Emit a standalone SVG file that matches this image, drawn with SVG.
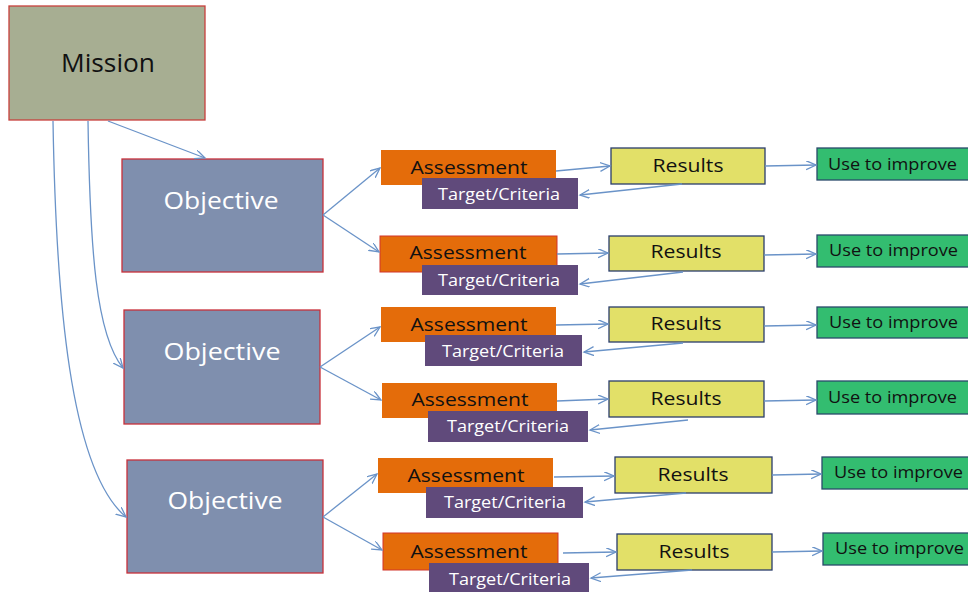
<svg xmlns="http://www.w3.org/2000/svg" width="968" height="592" viewBox="0 0 968 592">
<style>
text{font-family:"Open Sans","Noto Sans","Liberation Sans",sans-serif;}
.mission{fill:#a7ae92;stroke:#c8403c;stroke-width:1.3}
.obj{fill:#7f8fae;stroke:#c8303a;stroke-width:1.3}
.ass{fill:#e46c0a;stroke:none}
.ass2{fill:#e46c0a;stroke:#d2352b;stroke-width:1}
.tgt{fill:#604a7b}
.res{fill:#e2e068;stroke:#2a3d6b;stroke-width:1.3}
.use{fill:#33bd70;stroke:#2a4a6b;stroke-width:1.3}
.tw{fill:#ffffff}
.tb{fill:#111111}
.c{text-anchor:middle}
.conn{fill:none;stroke:#6a93c8;stroke-width:1.3;marker-end:url(#ah)}
</style>
<defs>
<marker id="ah" markerUnits="userSpaceOnUse" markerWidth="12" markerHeight="10" refX="10" refY="4.5" orient="auto">
<path d="M0,0 L10,4.5 L0,9" fill="none" stroke="#6a93c8" stroke-width="1.3"/>
</marker>
</defs>
<rect width="968" height="592" fill="#ffffff"/>

<g id="mission">
<rect class="mission" x="9" y="6" width="196" height="114"/>
<text class="tb c" x="108" y="72" font-size="25" textLength="94" lengthAdjust="spacingAndGlyphs">Mission</text>
</g>

<g id="objective1">
<rect class="obj" x="122" y="159" width="201" height="113"/>
<text class="tw c" x="221" y="209" font-size="23" textLength="115" lengthAdjust="spacingAndGlyphs">Objective</text>
</g>
<g id="objective2">
<rect class="obj" x="124" y="310" width="196" height="114"/>
<text class="tw c" x="222" y="360" font-size="23" textLength="117" lengthAdjust="spacingAndGlyphs">Objective</text>
</g>
<g id="objective3">
<rect class="obj" x="127" y="460" width="196" height="113"/>
<text class="tw c" x="225" y="509" font-size="23" textLength="115" lengthAdjust="spacingAndGlyphs">Objective</text>
</g>

<!-- Row 1 -->
<g id="assessment1">
<rect class="ass" x="381" y="150" width="175" height="35"/>
<text class="tb c" x="469" y="174" font-size="19" textLength="117" lengthAdjust="spacingAndGlyphs">Assessment</text>
</g>
<g id="target1">
<rect class="tgt" x="422" y="178" width="156" height="31"/>
<text class="tw c" x="499" y="200" font-size="16" textLength="122" lengthAdjust="spacingAndGlyphs">Target/Criteria</text>
</g>
<g id="results1">
<rect class="res" x="611" y="148" width="154" height="36"/>
<text class="tb c" x="688" y="172" font-size="19" textLength="71" lengthAdjust="spacingAndGlyphs">Results</text>
</g>
<g id="use1">
<rect class="use" x="817" y="148" width="160" height="32"/>
<text class="tb" x="828" y="170" font-size="17" textLength="129" lengthAdjust="spacingAndGlyphs">Use to improve</text>
</g>

<!-- Row 2 -->
<g id="assessment2">
<rect class="ass2" x="380" y="236" width="177" height="36"/>
<text class="tb c" x="468" y="259" font-size="19" textLength="117" lengthAdjust="spacingAndGlyphs">Assessment</text>
</g>
<g id="target2">
<rect class="tgt" x="422" y="265" width="156" height="30"/>
<text class="tw c" x="499" y="286" font-size="16" textLength="122" lengthAdjust="spacingAndGlyphs">Target/Criteria</text>
</g>
<g id="results2">
<rect class="res" x="609" y="236" width="155" height="35"/>
<text class="tb c" x="686" y="258" font-size="19" textLength="71" lengthAdjust="spacingAndGlyphs">Results</text>
</g>
<g id="use2">
<rect class="use" x="817" y="235" width="160" height="32"/>
<text class="tb" x="829" y="256" font-size="17" textLength="129" lengthAdjust="spacingAndGlyphs">Use to improve</text>
</g>

<!-- Row 3 -->
<g id="assessment3">
<rect class="ass" x="381" y="307" width="175" height="35"/>
<text class="tb c" x="469" y="331" font-size="19" textLength="117" lengthAdjust="spacingAndGlyphs">Assessment</text>
</g>
<g id="target3">
<rect class="tgt" x="425" y="335" width="157" height="31"/>
<text class="tw c" x="503" y="357" font-size="16" textLength="122" lengthAdjust="spacingAndGlyphs">Target/Criteria</text>
</g>
<g id="results3">
<rect class="res" x="609" y="307" width="155" height="35"/>
<text class="tb c" x="686" y="330" font-size="19" textLength="71" lengthAdjust="spacingAndGlyphs">Results</text>
</g>
<g id="use3">
<rect class="use" x="817" y="307" width="160" height="31"/>
<text class="tb" x="829" y="328" font-size="17" textLength="129" lengthAdjust="spacingAndGlyphs">Use to improve</text>
</g>

<!-- Row 4 -->
<g id="assessment4">
<rect class="ass" x="382" y="383" width="175" height="35"/>
<text class="tb c" x="470" y="406" font-size="19" textLength="117" lengthAdjust="spacingAndGlyphs">Assessment</text>
</g>
<g id="target4">
<rect class="tgt" x="428" y="411" width="160" height="31"/>
<text class="tw c" x="508" y="432" font-size="16" textLength="122" lengthAdjust="spacingAndGlyphs">Target/Criteria</text>
</g>
<g id="results4">
<rect class="res" x="609" y="381" width="155" height="36"/>
<text class="tb c" x="686" y="405" font-size="19" textLength="71" lengthAdjust="spacingAndGlyphs">Results</text>
</g>
<g id="use4">
<rect class="use" x="817" y="381" width="160" height="33"/>
<text class="tb" x="828" y="403" font-size="17" textLength="129" lengthAdjust="spacingAndGlyphs">Use to improve</text>
</g>

<!-- Row 5 -->
<g id="assessment5">
<rect class="ass" x="378" y="458" width="175" height="35"/>
<text class="tb c" x="466" y="482" font-size="19" textLength="117" lengthAdjust="spacingAndGlyphs">Assessment</text>
</g>
<g id="target5">
<rect class="tgt" x="426" y="487" width="157" height="31"/>
<text class="tw c" x="505" y="508" font-size="16" textLength="122" lengthAdjust="spacingAndGlyphs">Target/Criteria</text>
</g>
<g id="results5">
<rect class="res" x="615" y="457" width="157" height="36"/>
<text class="tb c" x="693" y="481" font-size="19" textLength="71" lengthAdjust="spacingAndGlyphs">Results</text>
</g>
<g id="use5">
<rect class="use" x="822" y="457" width="160" height="32"/>
<text class="tb" x="834" y="478" font-size="17" textLength="129" lengthAdjust="spacingAndGlyphs">Use to improve</text>
</g>

<!-- Row 6 -->
<g id="assessment6">
<rect class="ass2" x="383" y="533" width="175" height="37"/>
<text class="tb c" x="469" y="558" font-size="19" textLength="117" lengthAdjust="spacingAndGlyphs">Assessment</text>
</g>
<g id="target6">
<rect class="tgt" x="429" y="563" width="160" height="32"/>
<text class="tw c" x="510" y="585" font-size="16" textLength="122" lengthAdjust="spacingAndGlyphs">Target/Criteria</text>
</g>
<g id="results6">
<rect class="res" x="617" y="534" width="155" height="36"/>
<text class="tb c" x="694" y="558" font-size="19" textLength="71" lengthAdjust="spacingAndGlyphs">Results</text>
</g>
<g id="use6">
<rect class="use" x="823" y="533" width="160" height="32"/>
<text class="tb" x="835" y="554" font-size="17" textLength="129" lengthAdjust="spacingAndGlyphs">Use to improve</text>
</g>

<g id="connectors">
<!-- mission to objectives -->
<path class="conn" d="M108,121 L205,158"/>
<path class="conn" d="M88,121 C90,250 96,335 123,368"/>
<path class="conn" d="M53,121 C56,300 70,470 126,517"/>
<!-- objectives to assessments -->
<path class="conn" d="M323,215 L380,168"/>
<path class="conn" d="M323,215 L379,252"/>
<path class="conn" d="M320,367 L380,327"/>
<path class="conn" d="M320,367 L381,400"/>
<path class="conn" d="M323,517 L377,474"/>
<path class="conn" d="M323,517 L382,550"/>
<!-- assessments to results -->
<path class="conn" d="M556,171 L610,166"/>
<path class="conn" d="M557,254 L608,253"/>
<path class="conn" d="M556,325 L608,324"/>
<path class="conn" d="M557,401 L608,399"/>
<path class="conn" d="M554,477 L614,476"/>
<path class="conn" d="M563,553 L616,552"/>
<!-- results to use -->
<path class="conn" d="M765,166 L816,165"/>
<path class="conn" d="M764,255 L816,254"/>
<path class="conn" d="M764,326 L816,325"/>
<path class="conn" d="M764,401 L816,400"/>
<path class="conn" d="M772,475 L821,474"/>
<path class="conn" d="M772,552 L822,551"/>
<!-- results back to targets -->
<path class="conn" d="M682,184 L580,195"/>
<path class="conn" d="M683,272 L580,284"/>
<path class="conn" d="M683,343 L584,352"/>
<path class="conn" d="M688,420 L590,430"/>
<path class="conn" d="M686,493 L585,502"/>
<path class="conn" d="M692,570 L591,578"/>
</g>
</svg>
